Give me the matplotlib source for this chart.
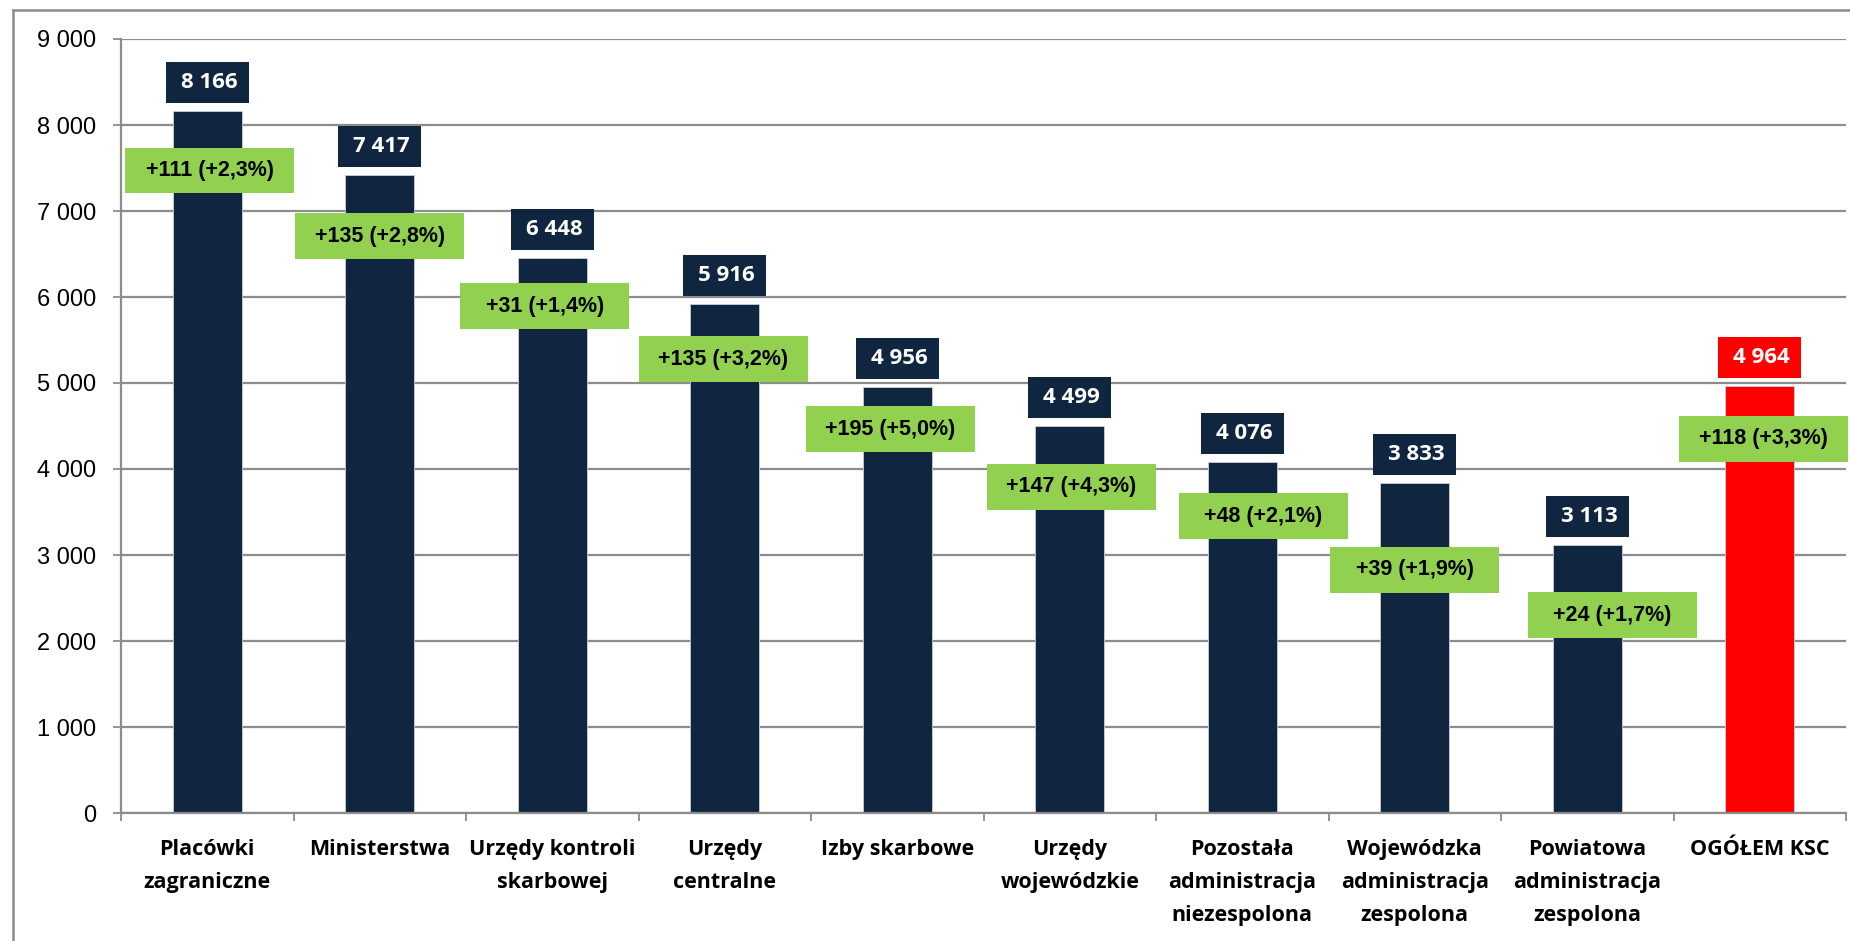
import matplotlib.pyplot as plt
from matplotlib.patches import Rectangle
from matplotlib.lines import Line2D
from matplotlib.ticker import FuncFormatter, MultipleLocator, FixedLocator

# Data
categories = ['Placówki\nzagraniczne', 'Ministerstwa', 'Urzędy kontroli\nskarbowej',
              'Urzędy\ncentralne', 'Izby skarbowe', 'Urzędy\nwojewódzkie',
              'Pozostała\nadministracja\nniezespolona', 'Wojewódzka\nadministracja\nzespolona',
              'Powiatowa\nadministracja\nzespolona', 'OGÓŁEM KSC']
values = [8166, 7417, 6448, 5916, 4956, 4499, 4076, 3833, 3113, 4964]
change_abs = [111, 135, 31, 135, 195, 147, 48, 39, 24, 118]
change_pct = [2.3, 2.8, 1.4, 3.2, 5.0, 4.3, 2.1, 1.9, 1.7, 3.3]

# Layout of the green change boxes (centre, in data units)
change_label_y = [7471, 6709, 5895, 5279, 4465, 3791, 3453, 2826, 2302, 4349]
change_label_dx = [0.015, 0, -0.043, -0.008, -0.04, 0.008, 0.123, 0, 0.144, 0.019]

NAVY = '#10253f'
GREEN = '#92d050'
RED = '#ff0000'
GRID = '#8c8c8c'


def fmt_thousands(v, pos=None):
    return f"{int(v):,}".replace(',', ' ')


fig = plt.figure(figsize=(18.5, 9.41), dpi=100)
ax = fig.add_axes([121 / 1850, 1 - 813 / 941, 1725 / 1850, (813 - 39) / 941])

x = list(range(len(categories)))
colors = [NAVY] * (len(values) - 1) + [RED]
ax.bar(x, values, width=0.4, color=colors, edgecolor='#c8ced6', linewidth=0.6, zorder=2)

# Value boxes above bars and green change boxes
for i, v in enumerate(values):
    box_w, box_h = 0.481, 477
    ax.add_patch(Rectangle((i - box_w / 2, v + 93), box_w, box_h, facecolor=colors[i],
                           edgecolor='none', zorder=3, clip_on=False))
    ax.text(i + 0.01, v + 93 + box_h / 2, fmt_thousands(v), color='white', ha='center',
            va='center', fontsize=16, fontweight='bold', family='Open Sans', zorder=4)

    gw, gh = 0.98, 525
    cx = i + change_label_dx[i]
    cy = change_label_y[i]
    ax.add_patch(Rectangle((cx - gw / 2, cy - gh / 2), gw, gh, facecolor=GREEN,
                           edgecolor='none', zorder=3, clip_on=False))
    label = f"+{change_abs[i]} (+{change_pct[i]:.1f}%)".replace('.', ',')
    ax.text(cx, cy, label, color='black', ha='center', va='center', fontsize=15.5,
            fontweight='bold', family='Liberation Sans', zorder=4)

ax.set_xlim(-0.5, len(categories) - 0.5)
ax.set_ylim(0, 9000)

ax.yaxis.set_major_locator(MultipleLocator(1000))
ax.yaxis.set_major_formatter(FuncFormatter(fmt_thousands))
ax.grid(axis='y', color=GRID, linewidth=1.6, zorder=0)
ax.set_axisbelow(True)

ax.set_xticks(x)
ax.set_xticklabels(categories, fontsize=15.5, fontweight='bold', family='Open Sans')
for lab in ax.get_xticklabels():
    lab.set_linespacing(1.75)
ax.xaxis.set_minor_locator(FixedLocator([i - 0.5 for i in range(len(categories) + 1)]))
ax.tick_params(axis='x', which='major', length=0, pad=18.5)
ax.tick_params(axis='x', which='minor', length=6, width=1.3, color=GRID, direction='out')
ax.tick_params(axis='y', length=6, width=1.3, color=GRID, pad=12, labelsize=17)
for lab in ax.get_yticklabels():
    lab.set_family('Liberation Sans')

for s in ['top', 'right']:
    ax.spines[s].set_visible(False)
for s in ['left', 'bottom']:
    ax.spines[s].set_color(GRID)
    ax.spines[s].set_linewidth(1.6)

# Outer chart border (top and left edges visible)
fig.add_artist(Line2D([13 / 1850, 13 / 1850], [0, 1 - 10 / 941], transform=fig.transFigure,
                      color=GRID, linewidth=1.8))
fig.add_artist(Line2D([13 / 1850, 1], [1 - 10 / 941, 1 - 10 / 941], transform=fig.transFigure,
                      color=GRID, linewidth=1.8))

fig.savefig('out.png', dpi=100)
